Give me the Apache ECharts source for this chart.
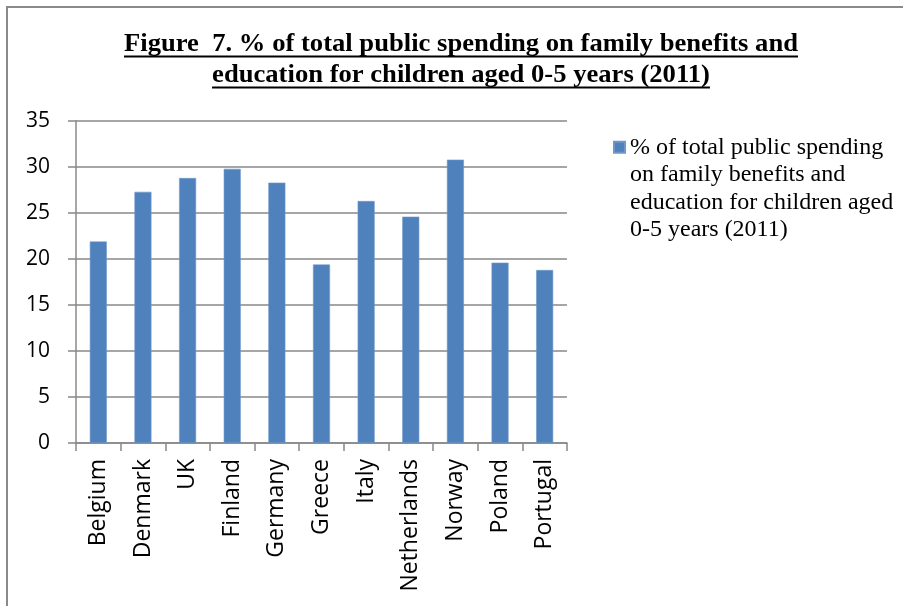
<!DOCTYPE html>
<html>
<head>
<meta charset="utf-8">
<script src="https://cdn.jsdelivr.net/npm/echarts@6/dist/echarts.min.js"></script>
<style>
  html, body { margin: 0; padding: 0; background: #fff; }
  #chart { width: 903px; height: 606px; }
</style>
</head>
<body>
<div id="chart"></div>
<script>
// Share of public spending going to family benefits and early education, by country
const countries = ['Belgium', 'Denmark', 'UK', 'Finland', 'Germany', 'Greece', 'Italy', 'Netherlands', 'Norway', 'Poland', 'Portugal'];
const spendingShare = [21.9, 27.3, 28.8, 29.8, 28.3, 19.4, 26.3, 24.6, 30.8, 19.6, 18.8];
const seriesName = '% of total public spending\non family benefits and\neducation for children aged\n0-5 years (2011)';
const titleLines = ['Figure  7. % of total public spending on family benefits and', 'education for children aged 0-5 years (2011)'];
const yTicks = { min: 0, max: 35, step: 5 };

const titleFont = 'bold 26px "Liberation Serif", "Times New Roman", serif';
const measureCtx = document.createElement('canvas').getContext('2d');
measureCtx.font = titleFont;
const titleWidths = titleLines.map(t => measureCtx.measureText(t).width);
// condensed heading: squeeze horizontally so the first line spans the chart header
const squeeze = 674 / titleWidths[0];
const titleCenterX = 461;
const titleRows = [{ y: 44, uy: 56.5 }, { y: 75, uy: 87.5 }];

const titleGraphics = [];
titleLines.forEach((t, i) => {
  const w = titleWidths[i] * squeeze;
  titleGraphics.push({
    type: 'text',
    x: titleCenterX, y: titleRows[i].y,
    scaleX: squeeze,
    style: { text: t, font: titleFont, fill: '#000', align: 'center', verticalAlign: 'middle' }
  });
  titleGraphics.push({
    type: 'line',
    shape: { x1: titleCenterX - w / 2, y1: titleRows[i].uy, x2: titleCenterX + w / 2, y2: titleRows[i].uy },
    style: { stroke: '#000', lineWidth: 2 }
  });
});

// legend swatch sits beside the first line of the wrapped label:
// a square near the top of a tall icon box whose extent is set by bare move-to points
const legendIcon = 'path://M0,0M0,7.5h10v10h-10zM0,100';

const chart = echarts.init(document.getElementById('chart'), null, { renderer: 'canvas' });
chart.setOption({
  backgroundColor: '#fff',
  animation: false,
  graphic: [
    {
      type: 'rect',
      shape: { x: 7, y: 7, width: 1000, height: 1000 },
      style: { fill: 'none', stroke: '#8a8a8a', lineWidth: 2 }
    }
  ].concat(titleGraphics),
  legend: {
    left: 613,
    top: 132.5,
    padding: 0,
    orient: 'vertical',
    icon: legendIcon,
    itemWidth: 11,
    itemHeight: 110,
    itemGap: 0,
    data: [seriesName],
    textStyle: {
      fontFamily: '"Liberation Serif", "Times New Roman", serif',
      fontSize: 24,
      lineHeight: 27.5,
      color: '#000'
    }
  },
  grid: { left: 76, right: 336, top: 121, bottom: 163, containLabel: false },
  xAxis: {
    type: 'category',
    data: countries,
    boundaryGap: true,
    axisLine: { show: true, lineStyle: { color: '#888', width: 1.5 } },
    axisTick: { show: true, length: 8, lineStyle: { color: '#888', width: 1.5 } },
    axisLabel: {
      rotate: 90,
      interval: 0,
      margin: 16,
      fontFamily: '"Open Sans", sans-serif',
      fontSize: 23,
      color: '#000'
    }
  },
  yAxis: {
    type: 'value',
    min: yTicks.min,
    max: yTicks.max,
    interval: yTicks.step,
    axisLine: { show: true, lineStyle: { color: '#888', width: 1.5 } },
    axisTick: { show: true, length: 8, lineStyle: { color: '#888', width: 1.5 } },
    splitLine: { show: true, lineStyle: { color: '#888', width: 1.5 } },
    axisLabel: {
      margin: 26,
      fontFamily: '"Open Sans", sans-serif',
      fontSize: 21,
      color: '#000'
    }
  },
  series: [{
    name: seriesName,
    type: 'bar',
    data: spendingShare,
    barWidth: 17,
    itemStyle: { color: '#4F81BD', borderColor: '#6f98c9', borderWidth: 0.6 }
  }]
});
</script>
</body>
</html>
